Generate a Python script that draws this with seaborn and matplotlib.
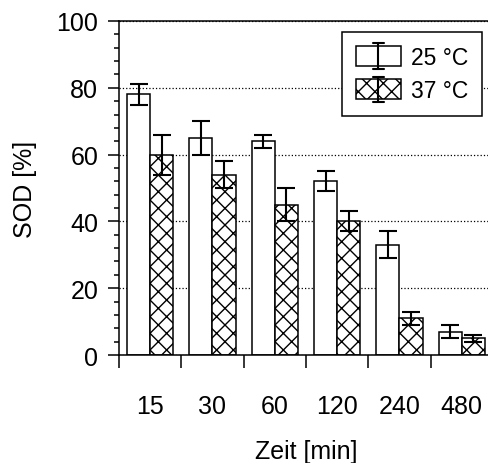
import numpy as np
import pandas as pd
import matplotlib
matplotlib.use("Agg")
import matplotlib.pyplot as plt
import seaborn as sns
from matplotlib.legend_handler import HandlerBase
from matplotlib.patches import Rectangle
from matplotlib.lines import Line2D

# ---- data ----
times = ["15", "30", "60", "120", "240", "480"]
series = ["25 °C", "37 °C"]
sod_25 = [78, 65, 64, 52, 33, 7]
err_25 = [3, 5, 2, 3, 4, 2]
sod_37 = [60, 54, 45, 40, 11, 5]
err_37 = [6, 4, 5, 3, 2, 1]

df = pd.DataFrame({
    "Zeit": times + times,
    "SOD": sod_25 + sod_37,
    "Temp": [series[0]] * len(times) + [series[1]] * len(times),
})
errs = [err_25, err_37]

sns.set_style("ticks")
plt.rcParams["font.family"] = ["Liberation Sans", "DejaVu Sans"]
plt.rcParams["hatch.linewidth"] = 1.0
plt.rcParams["hatch.color"] = "black"
for k in ["text.color", "axes.labelcolor", "xtick.color", "ytick.color",
          "axes.edgecolor"]:
    plt.rcParams[k] = "black"

FS = 18
LFS = 16.5

fig = plt.figure(figsize=(4.89, 4.64), dpi=100)
ax = fig.add_axes([119 / 489, 1 - 356 / 464, 374 / 489, 334 / 464])

sns.barplot(data=df, x="Zeit", y="SOD", hue="Temp", order=times,
            hue_order=series, palette=["white", "white"], edgecolor="black",
            linewidth=1.1, width=0.74, errorbar=None, legend=False, ax=ax,
            zorder=2)

hatches = ["", "xx"]
for cont, err, h in zip(ax.containers, errs, hatches):
    xs, ys = [], []
    for bar in cont:
        bar.set_hatch(h)
        bar.set_edgecolor("black")
        xs.append(bar.get_x() + bar.get_width() / 2)
        ys.append(bar.get_height())
    ax.errorbar(xs, ys, yerr=err, fmt="none", ecolor="black", elinewidth=1.5,
                capsize=6.5, capthick=1.5, zorder=3)

ax.set_xlim(-0.5, len(times) - 0.5)
ax.set_ylim(0, 100)
ax.set_yticks(np.arange(0, 101, 20))
ax.set_yticks(np.arange(0, 101, 4), minor=True)
ax.set_xticks(range(len(times)))
ax.set_xticklabels(times)
ax.set_xticks(np.arange(-0.5, len(times), 1), minor=True)

ax.tick_params(axis="x", which="major", length=0, pad=28, labelsize=FS)
ax.tick_params(axis="x", which="minor", direction="out", length=9, width=1.1)
ax.tick_params(axis="y", which="major", direction="out", length=8, width=1.1,
               pad=7, labelsize=FS)
ax.tick_params(axis="y", which="minor", direction="out", length=3.6, width=1.1)

ax.yaxis.grid(True, linestyle=":", color="black", linewidth=0.9, zorder=0)
ax.set_axisbelow(True)
for s in ax.spines.values():
    s.set_linewidth(1.1)
    s.set_color("black")

ax.set_xlabel("Zeit [min]", fontsize=FS)
ax.set_ylabel("SOD [%]", fontsize=FS)
ax.xaxis.set_label_coords(0.5, -0.25)
ax.yaxis.set_label_coords(-0.22, 0.5)


class BarErrHandler(HandlerBase):
    def create_artists(self, legend, orig_handle, xdescent, ydescent, width,
                       height, fontsize, trans):
        r = Rectangle((-xdescent, -ydescent), width, height, facecolor="white",
                      edgecolor="black", hatch=orig_handle.get_hatch(),
                      linewidth=1.1, transform=trans)
        cx = -xdescent + width / 2
        ext = 2.0
        y0 = -ydescent - ext
        y1 = -ydescent + height + ext
        cap = width * 0.12
        arts = [r]
        for xd, yd in [([cx, cx], [y0, y1]), ([cx - cap, cx + cap], [y0, y0]),
                       ([cx - cap, cx + cap], [y1, y1])]:
            ln = Line2D(xd, yd, color="black", linewidth=1.5)
            ln.set_transform(trans)
            arts.append(ln)
        return arts


handles = [cont[0] for cont in ax.containers]
leg = ax.legend(handles, series, handler_map={Rectangle: BarErrHandler()},
                loc="upper right", bbox_to_anchor=(482 / 489, 1 - 33 / 464),
                bbox_transform=fig.transFigure, frameon=True, fancybox=False,
                edgecolor="black", framealpha=1, borderaxespad=0,
                handlelength=2.0, handleheight=0.95, labelspacing=0.45,
                handletextpad=0.42, borderpad=0.6, fontsize=LFS)
leg.get_frame().set_linewidth(1.1)

fig.savefig("out.png", dpi=100)
